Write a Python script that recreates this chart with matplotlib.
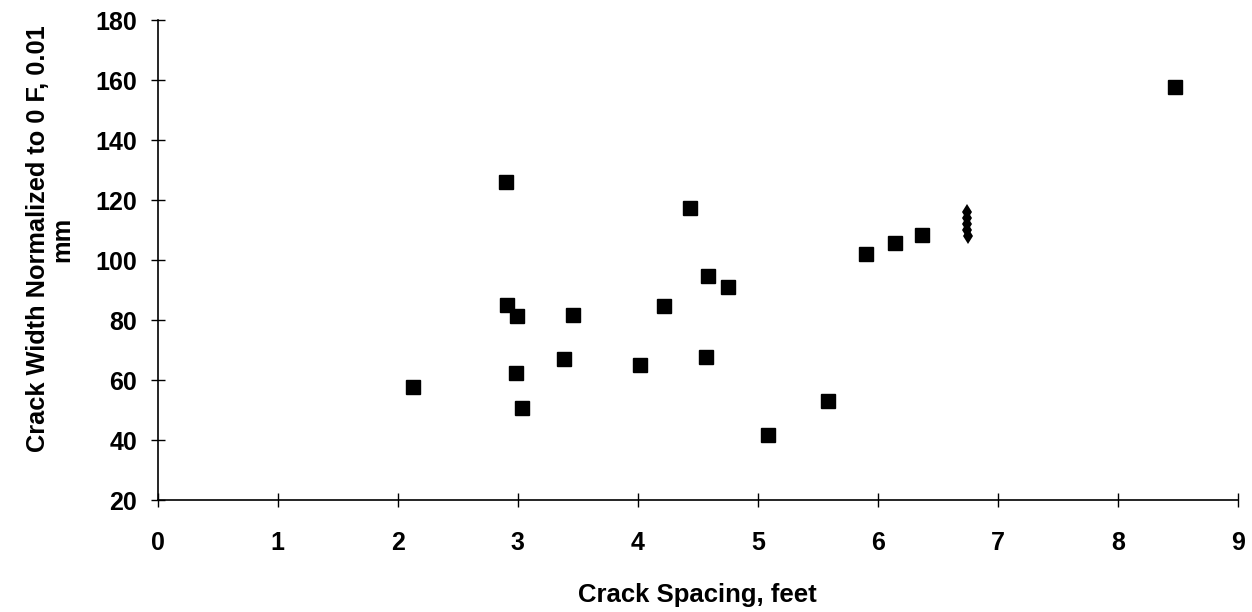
import matplotlib.pyplot as plt

# crack spacing (feet) vs normalized crack width (0.01 mm)
spacing = [2.13, 2.90, 2.91, 2.99, 2.98, 3.03, 3.38, 3.46, 4.02, 4.22,
           4.43, 4.58, 4.57, 4.75, 5.08, 5.58, 5.90, 6.14, 6.37, 8.47]
width = [57.7, 126.0, 85.0, 81.3, 62.3, 50.7, 67.0, 81.7, 65.0, 84.7,
         117.3, 94.7, 67.7, 91.0, 41.7, 53.0, 102.0, 105.7, 108.3, 157.7]

# cluster of overlapping points near 6.75 ft
stack_spacing = [6.74, 6.74, 6.74, 6.74, 6.75]
stack_width = [116.0, 114.0, 112.0, 110.0, 108.0]

xticks = list(range(0, 10))
yticks = list(range(20, 181, 20))

plt.rcParams["font.family"] = ["Liberation Sans", "DejaVu Sans"]
plt.rcParams["font.weight"] = "bold"

fig = plt.figure(figsize=(12.52, 6.12), dpi=100)
ax = fig.add_axes([0.126, 0.183, 0.863, 0.784])

ax.plot(spacing, width, "s", color="black", markersize=10, linestyle="none")
ax.plot(stack_spacing, stack_width, "d", color="black", markersize=8,
        markeredgewidth=0, linestyle="none")

ax.set_xlim(0, 9)
ax.set_ylim(20, 180)
ax.set_xticks(xticks)
ax.set_yticks(yticks)
ax.tick_params(direction="inout", length=10, width=1, labelsize=18)
ax.tick_params(axis="x", pad=17)
ax.tick_params(axis="y", pad=10)
for lab in ax.get_xticklabels() + ax.get_yticklabels():
    lab.set_fontweight("bold")

for side in ["top", "right"]:
    ax.spines[side].set_visible(False)
for side in ["left", "bottom"]:
    ax.spines[side].set_linewidth(1.2)

ax.set_xlabel("Crack Spacing, feet", fontsize=18.5, fontweight="bold")
ax.xaxis.set_label_coords(0.499, -0.172)
# two-line y label placed directly in figure coords
fig.text(50 / 1252, 1 - 239 / 612, "Crack Width Normalized to 0 F, 0.01\nmm",
         rotation=90, ha="center", va="center", fontsize=18.3,
         fontweight="bold", linespacing=1.0, multialignment="center")

fig.savefig("out.png", dpi=100)
